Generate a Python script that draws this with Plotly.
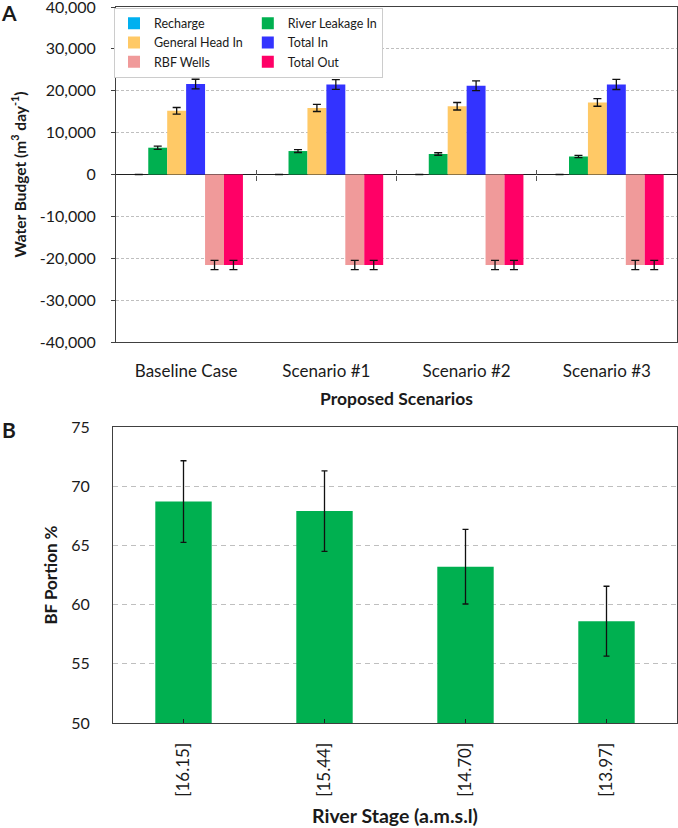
import plotly.graph_objects as go

# ---------------- data ----------------
scenarios = ["Baseline Case", "Scenario #1", "Scenario #2", "Scenario #3"]
recharge = [0, 0, 0, 0]
recharge_err = [0, 0, 0, 0]
river_leakage = [6400, 5600, 4900, 4300]
river_leakage_err = [400, 350, 300, 250]
general_head = [15200, 15900, 16300, 17200]
general_head_err = [800, 850, 900, 900]
total_in = [21600, 21500, 21200, 21500]
total_in_err = [1150, 1150, 1150, 1200]
rbf_wells = [-21600, -21600, -21600, -21600]
rbf_wells_err = [1100, 1100, 1100, 1100]
total_out = [-21600, -21600, -21600, -21600]
total_out_err = [1100, 1100, 1100, 1100]

budget_tickvals = [40000, 30000, 20000, 10000, 0, -10000, -20000, -30000, -40000]
budget_ticktext = ["40,000", "30,000", "20,000", "10,000", "0",
                   "-10,000", "-20,000", "-30,000", "-40,000"]

river_stage = ["[16.15]", "[15.44]", "[14.70]", "[13.97]"]
bf_portion = [68.7, 67.9, 63.2, 58.6]
bf_portion_err = [3.45, 3.4, 3.15, 2.95]
bf_tickvals = [50, 55, 60, 65, 70, 75]

# ---------------- styling ----------------
W, H = 678, 828
FONT = "Lato"
TXT = "#1a1a1a"
FRAME = "#404040"
GRID = "#bfbfbf"

def px_x(p):
    return p / W

def px_y(p):
    return 1 - p / H

ydomA = [px_y(342), px_y(7)]
ydomB = [px_y(723), px_y(427)]

# legend columns are built from legend groups (horizontal grouped legend)
series = [
    ("Recharge", recharge, recharge_err, "#00b0f0", "col1"),
    ("River Leakage In", river_leakage, river_leakage_err, "#00b050", "col2"),
    ("General Head In", general_head, general_head_err, "#ffc966", "col1"),
    ("Total In", total_in, total_in_err, "#3333ff", "col2"),
    ("RBF Wells", rbf_wells, rbf_wells_err, "#f09a9a", "col1"),
    ("Total Out", total_out, total_out_err, "#ff0066", "col2"),
]

fig = go.Figure()
for name, vals, errs, color, grp in series:
    fig.add_trace(go.Bar(
        x=scenarios, y=vals, name=name, marker=dict(color=color, line=dict(width=0)),
        error_y=dict(type="data", array=errs, color="#111111", thickness=1.3, width=4),
        xaxis="x", yaxis="y", legendgroup=grp,
    ))

# helper traces so the overlay tick axes (ticks crossing the zero line) are drawn
fig.add_trace(go.Scatter(x=[], y=[], xaxis="x3", yaxis="y", showlegend=False, hoverinfo="skip"))
fig.add_trace(go.Scatter(x=[], y=[], xaxis="x4", yaxis="y", showlegend=False, hoverinfo="skip"))

fig.add_trace(go.Bar(
    x=river_stage, y=bf_portion, width=0.4,
    marker=dict(color="#00b050", line=dict(width=0)),
    error_y=dict(type="data", array=bf_portion_err, color="#111111", thickness=1.3, width=3),
    xaxis="x2", yaxis="y2", showlegend=False,
))

ymin, ymax = -40000, 40000
zero_paper = ydomA[0] + (0 - ymin) / (ymax - ymin) * (ydomA[1] - ydomA[0])
boundaries = [i + 0.5 for i in range(len(scenarios) - 1)]

ytickfont = dict(family=FONT, size=16, color=TXT)
xtickfont = dict(family=FONT, size=17, color=TXT)
legfont = dict(family=FONT, size=12.5, color=TXT)

fig.update_layout(
    width=W, height=H,
    margin=dict(l=0, r=0, t=0, b=0),
    paper_bgcolor="white", plot_bgcolor="white",
    font=dict(family=FONT, color=TXT),
    barmode="group", bargap=0.19, bargroupgap=0,
    xaxis=dict(
        domain=[px_x(116), px_x(677)], anchor="y", type="category",
        showline=True, linecolor=FRAME, linewidth=1, mirror=True,
        ticks="", tickfont=xtickfont, ticklabelstandoff=14,
        title=dict(text="<b>Proposed Scenarios</b>", font=dict(family=FONT, size=17.5, color=TXT), standoff=12),
        automargin=False, showgrid=False,
    ),
    yaxis=dict(
        domain=ydomA, anchor="x", range=[ymin, ymax],
        tickvals=budget_tickvals, ticktext=budget_ticktext, ticklabeloverflow="allow",
        showline=True, linecolor=FRAME, linewidth=1, mirror=True,
        ticks="outside", ticklen=4, tickcolor=FRAME, tickfont=ytickfont, ticklabelstandoff=12,
        showgrid=True, gridcolor=GRID, griddash="3px,2px", gridwidth=1,
        zeroline=True, zerolinecolor="#202020", zerolinewidth=1.2,
        title=dict(text="<b>Water Budget (m<sup>3</sup> day<sup>-1</sup>)</b>",
                   font=dict(family=FONT, size=15.5, color=TXT), standoff=9),
        automargin=False,
    ),
    xaxis3=dict(
        overlaying="x", anchor="free", position=zero_paper, range=[-0.5, len(scenarios) - 0.5],
        tickvals=boundaries, showticklabels=False, ticks="outside", ticklen=5,
        tickcolor="#555555", tickwidth=1.2, showline=False, showgrid=False, zeroline=False,
    ),
    xaxis4=dict(
        overlaying="x", anchor="free", position=zero_paper, range=[-0.5, len(scenarios) - 0.5],
        tickvals=boundaries, showticklabels=False, ticks="inside", ticklen=5,
        tickcolor="#555555", tickwidth=1.2, showline=False, showgrid=False, zeroline=False,
    ),
    xaxis2=dict(
        domain=[px_x(113), px_x(677)], anchor="y2", type="category",
        showline=True, linecolor=FRAME, linewidth=1.2, mirror=True,
        ticks="inside", ticklen=4, tickcolor="#222222", tickangle=-90,
        tickfont=xtickfont, ticklabelstandoff=12,
        title=dict(text="<b>River Stage (a.m.s.l)</b>", font=dict(family=FONT, size=19.5, color=TXT), standoff=13),
        automargin=False, showgrid=False,
    ),
    yaxis2=dict(
        domain=ydomB, anchor="x2", range=[50, 75], tickvals=bf_tickvals, ticklabeloverflow="allow",
        showline=True, linecolor=FRAME, linewidth=1.2, mirror=True,
        ticks="", tickfont=ytickfont, ticklabelstandoff=19,
        showgrid=True, gridcolor=GRID, griddash="5px,4px", gridwidth=1.3, zeroline=False,
        title=dict(text="<b>BF Portion %</b>", font=dict(family=FONT, size=17, color=TXT), standoff=9),
        automargin=False,
    ),
    legend=dict(
        x=px_x(114), y=px_y(7.5), xanchor="left", yanchor="top",
        orientation="h", traceorder="grouped", tracegroupgap=0,
        bgcolor="white", bordercolor="#cccccc", borderwidth=1,
        font=legfont,
    ),
    annotations=[
        dict(text="<b>A</b>", x=px_x(-1), y=px_y(-2), xref="paper", yref="paper",
             xanchor="left", yanchor="top", showarrow=False, font=dict(family=FONT, size=21, color=TXT)),
        dict(text="<b>B</b>", x=px_x(0), y=px_y(415), xref="paper", yref="paper",
             xanchor="left", yanchor="top", showarrow=False, font=dict(family=FONT, size=21, color=TXT)),
    ],
)

# remove the default 8px page margin so the figure sits at the window origin
fig.write_html("out.html", config={"displayModeBar": False},
               post_script="document.body.style.margin='0';")
